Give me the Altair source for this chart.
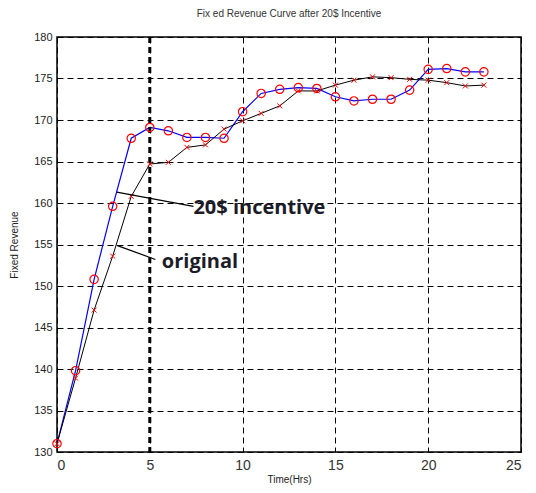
import altair as alt
import pandas as pd

hours = list(range(24))
incentive = [131.0, 139.8, 150.8, 159.6, 167.8, 169.1, 168.7, 167.9, 167.9, 167.8,
             171.0, 173.2, 173.7, 173.9, 173.8, 172.8, 172.3, 172.5, 172.5, 173.6,
             176.1, 176.2, 175.8, 175.8]
original = [131.0, 138.9, 147.1, 153.6, 160.8, 164.7, 164.9, 166.7, 167.0, 168.9,
            169.9, 170.8, 171.7, 173.5, 173.5, 174.2, 174.8, 175.2, 175.1, 174.9,
            174.8, 174.5, 174.1, 174.2]

x_ticks = [0, 5, 10, 15, 20, 25]
y_ticks = [130, 135, 140, 145, 150, 155, 160, 165, 170, 175, 180]

ann_labels = ["20$ incentive", "original"]
ann_x_from = [3.22, 3.22]
ann_y_from = [161.3, 154.9]
ann_x_to = [7.35, 5.3]
ann_y_to = [159.6, 153.2]
ann_text_x = [7.35, 5.65]
ann_text_y = [159.4, 152.9]

bold_grid_x = [5]

df_inc = pd.DataFrame({"t": hours, "v": incentive})
df_org = pd.DataFrame({"t": hours, "v": original})
df_ann = pd.DataFrame({"label": ann_labels, "x1": ann_x_from, "y1": ann_y_from,
                       "x2": ann_x_to, "y2": ann_y_to, "tx": ann_text_x, "ty": ann_text_y})
df_bold = pd.DataFrame({"t": bold_grid_x})

xs = alt.Scale(domain=[0, 25], nice=False, zero=False)
ys = alt.Scale(domain=[130, 180], nice=False, zero=False)

xax = alt.Axis(values=x_ticks, title="Time(Hrs)", grid=True, gridDash=[6, 4], gridColor="black",
               gridOpacity=1, gridWidth=1, ticks=False, domain=False, labelFontSize=14,
               labelFont="Liberation Sans", labelColor="#333", labelPadding=6,
               titleFont="Liberation Sans", titleFontSize=10, titleFontWeight="normal",
               titleColor="#222", titlePadding=2)
yax = alt.Axis(values=y_ticks, title="Fixed Revenue", grid=True, gridDash=[6, 4], gridColor="black",
               gridOpacity=1, gridWidth=1, ticks=False, domain=False, labelFontSize=11,
               labelFont="Liberation Sans", labelColor="#222", labelPadding=5,
               titleFont="Liberation Sans", titleFontSize=10, titleFontWeight="normal",
               titleColor="#222", titlePadding=14)

base_inc = alt.Chart(df_inc).encode(x=alt.X("t:Q", scale=xs, axis=xax), y=alt.Y("v:Q", scale=ys, axis=yax))

bold = alt.Chart(df_bold).mark_rule(color="black", strokeWidth=3, strokeDash=[6, 4]).encode(
    x=alt.X("t:Q", scale=xs))

line_org = alt.Chart(df_org).mark_line(color="black", strokeWidth=1).encode(
    x=alt.X("t:Q", scale=xs), y=alt.Y("v:Q", scale=ys))
pts_org = alt.Chart(df_org).mark_point(shape="M-1,-1L1,1M-1,1L1,-1", color="red", filled=False,
                                       size=25, strokeWidth=1, opacity=1).encode(
    x=alt.X("t:Q", scale=xs), y=alt.Y("v:Q", scale=ys))

line_inc = base_inc.mark_line(color="blue", strokeWidth=1.2)
pts_inc = alt.Chart(df_inc).mark_point(shape="circle", color="red", filled=False, size=70,
                                       strokeWidth=1.2, opacity=1).encode(
    x=alt.X("t:Q", scale=xs), y=alt.Y("v:Q", scale=ys))

ann_rules = alt.Chart(df_ann).mark_rule(color="black", strokeWidth=1.2).encode(
    x=alt.X("x1:Q", scale=xs), y=alt.Y("y1:Q", scale=ys), x2="x2:Q", y2="y2:Q")
ann_text = alt.Chart(df_ann).mark_text(align="left", baseline="middle", font="Open Sans",
                                       fontWeight="bold", fontSize=20, color="#1c1c28").encode(
    x=alt.X("tx:Q", scale=xs), y=alt.Y("ty:Q", scale=ys), text="label:N")

chart = alt.layer(line_inc, bold, line_org, pts_org, pts_inc, ann_rules, ann_text).properties(
    width=464, height=415,
    title=alt.TitleParams("Fix ed Revenue Curve after 20$ Incentive", font="Liberation Sans",
                          fontSize=10, fontWeight="normal", color="#333", offset=12),
    autosize=alt.AutoSizeParams(type="none"),
    padding={"left": 57, "top": 37, "right": 15, "bottom": 41},
).configure_view(stroke="black", strokeWidth=1.5)

chart.save("out.html", embed_options={"renderer": "svg", "actions": False})
